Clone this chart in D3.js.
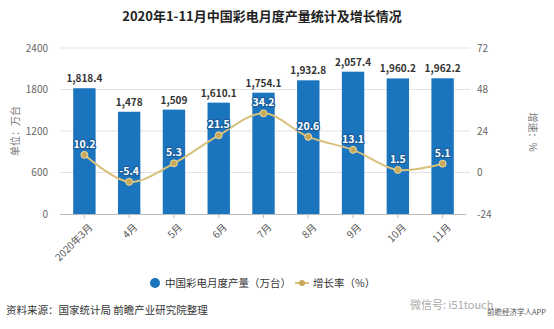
<!DOCTYPE html>
<html><head><meta charset="utf-8">
<script src="https://cdn.jsdelivr.net/npm/d3@7"></script>
<style>
html,body{margin:0;padding:0;background:#fff;}
svg{display:block;font-family:"Noto Sans CJK SC","Noto Sans",sans-serif;}
</style></head>
<body><svg id="c" width="554" height="329"></svg>
<script>
const categories = ["2020年3月","4月","5月","6月","7月","8月","9月","10月","11月"];
const production = [1818.4,1478,1509,1610.1,1754.1,1932.8,2057.4,1960.2,1962.2];
const productionLabels = ["1,818.4","1,478","1,509","1,610.1","1,754.1","1,932.8","2,057.4","1,960.2","1,962.2"];
const growth = [10.2,-5.4,5.3,21.5,34.2,20.6,13.1,1.5,5.1];
const leftTicks = [0,600,1200,1800,2400];
const rightTicks = [-24,0,24,48,72];
const title = "2020年1-11月中国彩电月度产量统计及增长情况";
const legendNames = ["中国彩电月度产量（万台）","增长率（%）"];
const source = "资料来源：国家统计局 前瞻产业研究院整理";

const svg = d3.select("#c");
const BLUE = "#1b74be", GOLD = "#d8c07a", GOLDM = "#c8a95a";
const x = d3.scaleBand().domain(categories).range([62,465]).paddingInner(0.5).paddingOuter(0.25);
const yL = d3.scaleLinear().domain([0,2400]).range([214,48]);
const yR = d3.scaleLinear().domain([-24,72]).range([214,48]);

// title
svg.append("text").attr("x",262).attr("y",21).attr("text-anchor","middle")
  .attr("font-size",13).attr("font-weight","bold").attr("fill","#222").text(title);

// gridlines
svg.append("g").selectAll("line").data(leftTicks.filter(d=>d>0)).join("line")
  .attr("x1",60).attr("x2",470).attr("y1",d=>yL(d)).attr("y2",d=>yL(d))
  .attr("stroke","#e3e3e3").attr("stroke-width",1);

// left axis
const gl = svg.append("g").attr("transform","translate(54,0)")
  .call(d3.axisLeft(yL).tickValues(leftTicks).tickFormat(d=>String(d)).tickSize(0).tickPadding(6));
gl.select(".domain").remove();
gl.selectAll("text").attr("font-size",10).attr("fill","#666").attr("font-family","Noto Sans CJK SC");
// right axis
const gr = svg.append("g").attr("transform","translate(471,0)")
  .call(d3.axisRight(yR).tickValues(rightTicks).tickFormat(d=>String(d)).tickSize(0).tickPadding(6));
gr.select(".domain").remove();
gr.selectAll("text").attr("font-size",10).attr("fill","#666").attr("font-family","Noto Sans CJK SC");

// axis titles
svg.append("text").attr("transform","translate(19,131) rotate(-90)").attr("text-anchor","middle")
  .attr("font-size",10).attr("fill","#777").text("单位：万台");
svg.append("text").attr("transform","translate(529,132) rotate(90)").attr("text-anchor","middle")
  .attr("font-size",10).attr("fill","#777").text("增速：%");

// bars
const bw = x.bandwidth();
svg.append("g").selectAll("rect").data(production).join("rect")
  .attr("x",(d,i)=>x(categories[i])).attr("width",bw)
  .attr("y",d=>yL(d)).attr("height",d=>yL(0)-yL(d)).attr("fill",BLUE);

// bottom axis
const gb = svg.append("g").attr("transform",`translate(0,${yL(0)})`)
  .call(d3.axisBottom(x).tickSize(4).tickSizeOuter(0));
gb.select(".domain").attr("stroke","#bbb").attr("d","M60,0.5H466");
gb.selectAll(".tick line").attr("stroke","#bbb");
gb.selectAll("text").attr("font-size",10).attr("fill","#555").attr("font-family","Noto Sans CJK SC")
  .attr("text-anchor","end").attr("dy",0).attr("transform","translate(4,9) rotate(-45)");

// bar labels
svg.append("g").selectAll("text").data(production).join("text")
  .attr("x",(d,i)=>x(categories[i])+bw/2).attr("y",d=>yL(d)-6)
  .attr("text-anchor","middle").attr("font-size",10).attr("font-weight","bold")
  .attr("fill","#333").text((d,i)=>productionLabels[i]);

// line
const cx = (i)=>x(categories[i])+bw/2;
const line = d3.line().x((d,i)=>cx(i)).y(d=>yR(d)).curve(d3.curveCatmullRom.alpha(0.5));
svg.append("path").datum(growth).attr("d",line).attr("fill","none")
  .attr("stroke",GOLD).attr("stroke-width",2);
svg.append("g").selectAll("circle").data(growth).join("circle")
  .attr("cx",(d,i)=>cx(i)).attr("cy",d=>yR(d)).attr("r",3.5)
  .attr("fill",GOLDM).attr("stroke","#e8d9a8").attr("stroke-width",1);
svg.append("g").selectAll("text").data(growth).join("text")
  .attr("x",(d,i)=>cx(i)).attr("y",d=>yR(d)-7)
  .attr("text-anchor","middle").attr("font-size",10.5).attr("font-weight","bold")
  .attr("fill","#fff").attr("stroke","#1c5f9c").attr("stroke-width",2.5)
  .attr("paint-order","stroke").attr("stroke-linejoin","round").text(d=>String(d));

// legend
svg.append("circle").attr("cx",155).attr("cy",283).attr("r",5).attr("fill",BLUE);
svg.append("text").attr("x",165).attr("y",287).attr("font-size",10.5).attr("fill","#333").text(legendNames[0]);
svg.append("line").attr("x1",295).attr("x2",309).attr("y1",283).attr("y2",283).attr("stroke",GOLD).attr("stroke-width",2);
svg.append("circle").attr("cx",302).attr("cy",283).attr("r",3).attr("fill",GOLDM);
svg.append("text").attr("x",313).attr("y",287).attr("font-size",10.5).attr("fill","#333").text(legendNames[1]);

// source
svg.append("text").attr("x",6).attr("y",314).attr("font-size",10.5).attr("fill","#333").text(source);

// watermark
svg.append("text").attr("x",410).attr("y",309).attr("font-size",11).attr("fill","#aaa").text("微信号: i51touch");
svg.append("text").attr("x",487).attr("y",315).attr("font-size",7.5).attr("fill","#555").text("前瞻经济学人APP");
</script></body></html>
